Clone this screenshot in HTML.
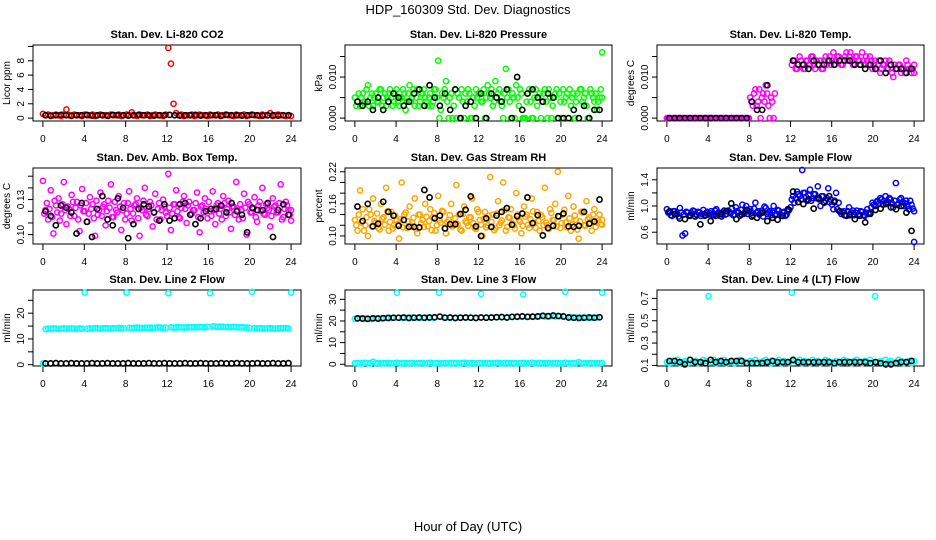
<!DOCTYPE html>
<html><head><meta charset="utf-8"><style>
html,body{margin:0;padding:0;background:#fff;}
svg{display:block;font-family:"Liberation Sans",sans-serif;}
</style></head><body>
<svg id="chart" width="936" height="540" viewBox="0 0 936 540" xmlns="http://www.w3.org/2000/svg">
<text x="468" y="14" font-size="13" text-anchor="middle">HDP_160309  Std. Dev. Diagnostics</text>
<text x="468" y="531" font-size="13" text-anchor="middle">Hour of Day (UTC)</text>
</svg>
<script>
// ---- data ----
const co2Red=[0.6,0.4,0.5,0.3,0.4,0.5,0.4,0.3,0.5,1.2,0.4,0.3,0.5,0.4,0.4,0.3,0.5,0.4,0.4,0.5,0.3,0.4,0.5,0.4,0.4,0.3,0.5,0.4,0.4,0.5,0.3,0.4,0.5,0.4,0.8,0.4,0.3,0.5,0.4,0.4,0.5,0.3,0.4,0.5,0.4,0.4,0.3,0.5,9.8,7.6,2.0,0.7,0.4,0.5,0.3,0.4,0.4,0.5,0.3,0.4,0.5,0.4,0.4,0.3,0.5,0.4,0.4,0.5,0.3,0.4,0.5,0.4,0.4,0.3,0.5,0.4,0.4,0.5,0.3,0.4,0.5,0.4,0.4,0.3,0.5,0.4,0.4,0.7,0.3,0.4,0.5,0.4,0.4,0.3,0.4,0.3];
const co2Black=[0.4,0.35,0.4,0.45,0.4,0.35,0.4,0.4,0.45,0.35,0.4,0.4,0.35,0.45,0.4,0.4,0.35,0.4,0.45,0.4,0.4,0.35,0.4,0.4,0.45,0.4,0.35,0.4,0.4,0.45,0.35,0.4,0.4,0.4,0.35,0.45,0.4,0.4,0.35,0.4,0.45,0.4,0.35,0.4,0.4,0.35,0.4,0.4];
const pressGreen=[0.005,0.004,0.003,0.006,0.004,0.008,0.005,0.003,0.006,0.004,0.007,0.005,0.003,0.006,0.005,0.004,0.007,0.003,0.005,0.006,0.004,0.008,0.005,0.003,0.007,0.004,0.006,0.005,0.003,0.006,0.004,0.007,0.014,0.002,0.005,0.009,0.000,0.006,0.003,0.000,0.005,0.007,0.000,0.004,0.006,0.000,0.003,0.005,0.006,0.004,0.000,0.008,0.005,0.003,0.009,0.006,0.004,0.000,0.012,0.007,0.000,0.005,0.008,0.003,0.006,0.000,0.004,0.007,0.000,0.005,0.003,0.006,0.004,0.007,0.000,0.005,0.003,0.006,0.000,0.004,0.007,0.005,0.000,0.003,0.006,0.004,0.000,0.007,0.005,0.003,0.000,0.006,0.004,0.002,0.005,0.016];
const pressGreen2=[0.003,0.006,0.005,0.004,0.007,0.003,0.006,0.005,0.004,0.007,0.003,0.006,0.005,0.007,0.003,0.006,0.004,0.005,0.007,0.002,0.006,0.004,0.007,0.005,0.003,0.006,0.007,0.004,0.005,0.003,0.007,0.005,0.000,0.006,0.007,0.004,0.005,0.000,0.007,0.006,0.000,0.004,0.006,0.007,0.000,0.005,0.007,0.006,0.004,0.007,0.005,0.006,0.007,0.004,0.005,0.007,0.003,0.006,0.005,0.004,0.006,0.000,0.005,0.007,0.000,0.000,0.006,0.004,0.000,0.007,0.005,0.000,0.006,0.004,0.007,0.000,0.005,0.007,0.006,0.000,0.004,0.006,0.007,0.005,0.000,0.006,0.007,0.004,0.006,0.000,0.007,0.005,0.006,0.004,0.007,0.005];
const pressBlack=[0.004,0.003,0.004,0.002,0.005,0.002,0.004,0.006,0.005,0.003,0.004,0.006,0.007,0.003,0.008,0.005,0.003,0.006,0.002,0.007,0.000,0.003,0.004,0.000,0.006,0.000,0.006,0.005,0.004,0.007,0.000,0.010,0.002,0.006,0.007,0.005,0.004,0.006,0.005,0.000,0.000,0.000,0.002,0.000,0.003,0.000,0.002,0.002];
const tempMag=[0,0,0,0,0,0,0,0,0,0,0,0,0,0,0,0,0,0,0,0,0,0,0,0,0,0,0,0,0,0,0,0,0.005,0.003,0.007,0.004,0.000,0.006,0.008,0.003,0.005,0.000,null,null,null,null,null,null,0.013,0.014,0.012,0.015,0.013,0.012,0.014,0.013,0.015,0.012,0.013,0.014,0.012,0.015,0.014,0.013,0.016,0.014,0.015,0.013,0.014,0.016,0.015,0.014,0.013,0.015,0.014,0.016,0.013,0.014,0.015,0.012,0.014,0.013,0.011,0.013,0.014,0.012,0.013,0.010,0.012,0.013,0.011,0.012,0.014,0.012,0.011,0.013];
const tempMag2=[0,0,0,0,0,0,0,0,0,0,0,0,0,0,0,0,0,0,0,0,0,0,0,0,0,0,0,0,0,0,0,0,0.004,0.006,0.003,0.007,0.005,0.004,0.006,0.000,0.004,0.006,null,null,null,null,null,null,0.014,0.012,0.013,0.014,0.012,0.014,0.013,0.015,0.013,0.014,0.013,0.012,0.014,0.013,0.015,0.014,0.013,0.015,0.014,0.013,0.015,0.014,0.016,0.013,0.015,0.014,0.013,0.014,0.015,0.013,0.014,0.013,0.012,0.014,0.012,0.013,0.012,0.014,0.011,0.013,0.012,0.013,0.012,0.011,0.013,0.012,0.012,0.011];
const tempBlack=[0,0,0,0,0,0,0,0,0,0,0,0,0,0,0,0,0.004,0.002,0.002,0.008,null,null,null,null,0.014,0.013,0.013,0.012,0.014,0.013,0.013,0.014,0.013,0.014,0.014,0.014,0.013,0.013,0.012,0.013,0.012,0.014,0.011,0.013,0.012,0.012,0.011,0.012];
const ambMag=[0.146,0.121,0.113,0.138,0.101,0.125,0.131,0.118,0.145,0.109,0.122,0.134,0.116,0.128,0.103,0.139,0.12,0.111,0.132,0.126,0.099,0.117,0.136,0.124,0.108,0.129,0.143,0.115,0.121,0.133,0.104,0.127,0.118,0.137,0.112,0.125,0.131,0.099,0.121,0.14,0.116,0.128,0.107,0.135,0.122,0.113,0.13,0.119,0.152,0.104,0.126,0.138,0.115,0.123,0.133,0.11,0.128,0.118,0.121,0.136,0.102,0.125,0.131,0.114,0.12,0.137,0.109,0.127,0.122,0.133,0.116,0.129,0.105,0.124,0.145,0.113,0.121,0.135,0.1,0.126,0.119,0.132,0.111,0.128,0.14,0.117,0.123,0.107,0.131,0.125,0.119,0.143,0.115,0.128,0.121,0.112];
const ambMag2=[0.118,0.127,0.122,0.115,0.129,0.119,0.112,0.126,0.121,0.124,0.116,0.128,0.123,0.113,0.125,0.12,0.127,0.118,0.122,0.114,0.129,0.121,0.116,0.126,0.12,0.123,0.115,0.128,0.119,0.124,0.121,0.113,0.127,0.122,0.118,0.126,0.114,0.123,0.129,0.117,0.122,0.125,0.119,0.113,0.127,0.121,0.124,0.116,0.123,0.118,0.126,0.12,0.114,0.128,0.122,0.125,0.117,0.121,0.127,0.115,0.124,0.119,0.122,0.128,0.116,0.121,0.125,0.118,0.113,0.127,0.122,0.119,0.124,0.117,0.121,0.126,0.114,0.123,0.128,0.119,0.122,0.115,0.125,0.12,0.118,0.126,0.121,0.116,0.124,0.119,0.127,0.113,0.122,0.125,0.117,0.121];
const ambBlack=[0.12,0.116,0.108,0.125,0.123,0.119,0.101,0.127,0.111,0.098,0.122,0.133,0.113,0.108,0.131,0.123,0.097,0.109,0.122,0.126,0.124,0.119,0.112,0.126,0.112,0.114,0.126,0.127,0.117,0.109,0.114,0.12,0.122,0.122,0.125,0.119,0.127,0.12,0.117,0.102,0.123,0.121,0.121,0.127,0.098,0.121,0.126,0.117];
const rhOrange=[0.13,0.11,0.185,0.15,0.12,0.1,0.14,0.17,0.125,0.115,0.16,0.135,0.19,0.11,0.145,0.12,0.13,0.095,0.2,0.14,0.115,0.155,0.125,0.17,0.105,0.14,0.13,0.16,0.118,0.15,0.135,0.11,0.175,0.125,0.145,0.105,0.13,0.16,0.12,0.195,0.14,0.11,0.155,0.125,0.135,0.17,0.115,0.15,0.13,0.1,0.145,0.12,0.21,0.14,0.115,0.165,0.125,0.2,0.11,0.135,0.15,0.12,0.18,0.13,0.105,0.155,0.14,0.115,0.17,0.125,0.145,0.11,0.135,0.19,0.12,0.15,0.13,0.16,0.22,0.115,0.14,0.125,0.175,0.11,0.155,0.13,0.095,0.145,0.12,0.165,0.135,0.11,0.15,0.125,0.14,0.13];
const rhOrange2=[0.12,0.14,0.125,0.11,0.135,0.15,0.118,0.128,0.142,0.112,0.132,0.121,0.146,0.126,0.114,0.138,0.122,0.131,0.116,0.144,0.127,0.119,0.134,0.113,0.14,0.124,0.117,0.136,0.128,0.111,0.143,0.12,0.13,0.147,0.115,0.126,0.139,0.118,0.133,0.122,0.112,0.141,0.127,0.119,0.135,0.124,0.113,0.145,0.121,0.132,0.116,0.138,0.126,0.111,0.142,0.12,0.129,0.148,0.117,0.134,0.123,0.114,0.14,0.127,0.119,0.136,0.121,0.131,0.146,0.115,0.128,0.139,0.12,0.125,0.113,0.143,0.13,0.118,0.136,0.124,0.149,0.116,0.133,0.121,0.138,0.112,0.127,0.144,0.119,0.131,0.124,0.14,0.117,0.129,0.122,0.121];
const rhBlack=[0.155,0.128,0.16,0.118,0.123,0.164,0.145,0.138,0.119,0.13,0.117,0.117,0.116,0.186,0.172,0.133,0.138,0.114,0.122,0.122,0.141,0.149,0.174,0.118,0.1,0.133,0.117,0.138,0.145,0.152,0.121,0.137,0.142,0.172,0.124,0.139,0.101,0.115,0.119,0.137,0.142,0.118,0.117,0.119,0.145,0.123,0.127,0.168];
const flowBlue=[0.95,0.9,0.85,0.92,0.88,0.97,0.55,0.58,0.9,0.86,0.93,0.88,0.91,0.85,0.94,0.89,0.87,0.92,0.86,0.95,0.9,0.84,0.93,0.88,0.91,0.96,0.87,0.92,0.85,1.02,0.9,0.88,0.95,0.86,1.05,0.92,0.89,0.84,0.97,0.9,0.86,1.0,0.88,0.93,0.85,0.91,0.87,0.94,1.1,1.05,1.22,1.15,1.55,1.2,1.08,1.25,1.12,1.18,1.3,1.0,1.15,1.08,1.27,1.1,0.95,1.2,1.05,0.88,0.92,0.85,0.98,0.9,0.86,0.93,0.87,0.91,0.85,0.95,0.9,1.05,1.0,1.08,1.12,1.02,1.15,1.06,1.1,0.98,1.35,1.04,1.12,1.0,1.08,0.95,1.02,0.45];
const flowBlue2=[0.9,0.86,0.92,0.88,0.84,0.9,0.87,0.91,0.85,0.89,0.92,0.86,0.9,0.88,0.85,0.91,0.89,0.86,0.93,0.88,0.85,0.9,0.87,0.93,0.89,0.86,0.98,0.9,0.94,0.88,1.0,0.92,0.89,0.96,0.9,0.87,0.93,0.99,0.88,0.92,0.9,0.86,0.94,0.88,0.9,0.85,0.92,0.98,1.15,1.12,1.18,1.1,1.2,1.14,1.16,1.08,1.18,1.12,1.1,1.15,1.05,1.12,1.06,1.02,1.08,0.95,0.92,0.9,0.86,0.92,0.88,0.93,0.9,0.87,0.92,0.86,0.9,0.88,0.98,1.02,1.06,1.04,1.1,1.08,1.05,1.12,1.04,1.08,1.02,1.1,1.06,1.04,1.0,1.08,0.96,0.92];
const flowBlack=[0.92,0.88,0.81,0.8,0.85,0.84,0.72,0.86,0.77,0.85,0.88,0.92,1.04,0.8,0.87,0.94,0.84,0.82,0.9,0.77,0.82,0.79,0.85,0.95,1.22,1.06,1.03,1.1,0.96,1.12,1.06,1.15,1.06,0.92,0.86,0.86,0.8,0.85,0.75,0.88,0.94,0.96,1.03,0.98,0.95,1.0,0.9,0.62];
const line2Cyan=[0.5,13.8,14.0,13.9,14.1,14.0,13.9,14.0,14.1,14.0,14.0,14.1,14.0,13.9,14.1,14.0,28.0,14.0,14.1,14.0,14.2,14.1,14.0,14.1,14.2,14.1,14.0,14.2,14.1,14.3,14.2,14.1,28.0,14.3,14.2,14.3,14.4,14.3,14.2,14.4,14.3,14.4,14.3,14.4,14.5,14.4,14.3,14.4,27.8,14.5,14.4,14.5,14.6,14.5,14.4,14.5,14.6,14.5,14.6,14.5,14.7,14.6,14.5,14.7,27.8,14.9,14.8,14.7,14.8,14.7,14.6,14.7,14.6,14.7,14.6,14.5,14.6,14.5,14.4,14.3,28.3,14.2,14.1,14.2,14.1,14.0,14.1,14.2,14.1,14.0,14.1,14.2,14.1,14.2,14.1,28.0];
const line2Black=[0.5,0.5,0.6,0.5,0.5,0.6,0.5,0.5,0.5,0.6,0.5,0.5,0.6,0.5,0.5,0.5,0.6,0.5,0.5,0.5,0.6,0.5,0.5,0.6,0.5,0.5,0.5,0.6,0.5,0.5,0.6,0.5,0.5,0.5,0.6,0.5,0.5,0.6,0.5,0.5,0.5,0.6,0.5,0.5,0.6,0.5,0.5,0.6];
const line3CyanLow=[0.5,0.6,0.4,0.5,0.7,0.5,0.4,1.2,0.5,0.6,0.4,0.5,0.5,0.6,0.4,0.5,0.7,0.5,0.4,0.6,0.5,0.5,0.6,0.4,0.5,0.5,0.6,0.4,0.5,0.7,0.5,0.4,0.6,0.5,0.5,0.6,0.4,0.5,0.5,0.6,0.4,0.5,0.7,0.5,0.4,0.6,0.5,0.5,0.6,0.4,0.5,0.5,0.6,0.4,0.5,0.7,0.5,0.4,0.6,0.5,0.5,0.6,0.4,0.5,0.5,0.6,0.4,0.5,0.7,0.5,0.4,0.6,0.5,0.5,0.6,0.4,0.5,0.5,0.6,0.4,0.5,0.7,0.5,0.4,0.6,0.5,1.0,0.6,0.4,0.5,0.5,0.6,0.4,0.5,0.5,0.6];
const line3CyanHigh=[21.0,21.2,21.1,21.0,21.3,21.2,21.4,21.3,33.0,21.5,21.4,21.6,21.5,21.4,21.6,21.5,33.0,21.6,21.5,21.4,21.6,21.5,21.6,21.5,32.5,21.7,21.6,21.8,21.7,21.8,21.9,21.8,32.2,22.0,21.9,22.1,22.0,22.1,22.0,22.2,33.5,21.8,21.6,21.5,21.6,21.5,21.6,33.0];
const line3Black=[21.2,21.1,21.0,21.2,21.1,21.3,21.4,21.5,21.5,21.6,21.4,21.5,21.6,21.5,21.6,21.7,22.0,21.5,21.6,21.4,21.5,21.6,21.5,21.4,21.6,21.5,21.6,21.7,21.8,21.6,21.9,22.0,22.1,21.9,22.0,22.1,22.4,22.2,22.5,22.3,22.1,21.6,21.5,21.4,21.5,21.6,21.5,21.7];
const line4Cyan=[0.13,0.12,0.14,0.13,0.15,0.12,0.13,0.14,0.12,0.15,0.13,0.14,0.12,0.13,0.15,0.14,0.72,0.13,0.15,0.12,0.14,0.13,0.15,0.12,0.13,0.14,0.12,0.13,0.15,0.14,0.13,0.12,0.14,0.13,0.15,0.12,0.13,0.14,0.15,0.13,0.12,0.14,0.13,0.15,0.12,0.14,0.13,0.12,0.75,0.14,0.13,0.15,0.12,0.14,0.13,0.12,0.15,0.13,0.14,0.12,0.13,0.15,0.14,0.12,0.13,0.14,0.12,0.13,0.15,0.14,0.13,0.12,0.14,0.15,0.13,0.12,0.14,0.13,0.15,0.12,0.72,0.13,0.14,0.12,0.15,0.13,0.14,0.12,0.13,0.15,0.14,0.12,0.13,0.14,0.12,0.14];
const line4Black=[0.14,0.14,0.13,0.11,0.15,0.13,0.13,0.12,0.15,0.13,0.14,0.13,0.14,0.14,0.14,0.12,0.12,0.12,0.12,0.13,0.14,0.13,0.13,0.13,0.15,0.13,0.13,0.13,0.13,0.13,0.13,0.13,0.12,0.13,0.13,0.13,0.13,0.13,0.13,0.12,0.13,0.12,0.11,0.11,0.12,0.13,0.13,0.14];
const xTicks=[0,4,8,12,16,20,24];
const yTicks1=[0,2,4,6,8,10], yLabels1=["0","2","4","6","8",""];
const yTicks2=[0,0.005,0.010,0.015], yLabels2=["0.000","","0.010",""];
const yTicks3=[0,0.005,0.010,0.015], yLabels3=["0.000","","0.010",""];
const yTicks4=[0.10,0.11,0.12,0.13,0.14,0.15], yLabels4=["0.10","","","0.13","",""];
const yTicks5=[0.10,0.12,0.14,0.16,0.18,0.20,0.22], yLabels5=["0.10","","","0.16","","","0.22"];
const yTicks6=[0.6,0.8,1.0,1.2,1.4], yLabels6=["0.6","","1.0","","1.4"];
const yTicks7=[0,5,10,15,20,25], yLabels7=["0","","10","","20",""];
const yTicks8=[0,5,10,15,20,25,30], yLabels8=["0","","10","","20","","30"];
const yTicks9=[0.1,0.2,0.3,0.4,0.5,0.6,0.7], yLabels9=["0.1","","0.3","","0.5","","0.7"];

// ---- layout ----
const svg=document.getElementById('chart');
const NS='http://www.w3.org/2000/svg';
const cols=[{l:33,r:301},{l:345,r:612},{l:657,r:924}];
const rows=[{t:45,b:121},{t:168,b:244},{t:290,b:366}];
function mk(tag,attrs,parent){const e=document.createElementNS(NS,tag);for(const k in attrs)e.setAttribute(k,attrs[k]);(parent||svg).appendChild(e);return e;}

const panels=[
 {name:'co2',title:'Stan. Dev. Li-820 CO2',ylab:'Licor ppm',ymin:-0.4,ymax:10.2,ticks:yTicks1,labels:yLabels1,series:[[co2Red,'#ff0000'],[co2Black,'#000']]},
 {name:'pressure',title:'Stan. Dev. Li-820 Pressure',ylab:'kPa',ymin:-0.0007,ymax:0.0178,ticks:yTicks2,labels:yLabels2,series:[[pressGreen,'#00ff00'],[pressGreen2,'#00ff00'],[pressBlack,'#000']]},
 {name:'li820-temp',title:'Stan. Dev. Li-820 Temp.',ylab:'degrees C',ymin:-0.0007,ymax:0.0178,ticks:yTicks3,labels:yLabels3,series:[[tempMag,'#ff00ff'],[tempMag2,'#ff00ff'],[tempBlack,'#000']]},
 {name:'amb-box-temp',title:'Stan. Dev. Amb. Box Temp.',ylab:'degrees C',ymin:0.092,ymax:0.157,ticks:yTicks4,labels:yLabels4,series:[[ambMag,'#ff00ff'],[ambMag2,'#ff00ff'],[ambBlack,'#000']]},
 {name:'gas-stream-rh',title:'Stan. Dev. Gas Stream RH',ylab:'percent',ymin:0.085,ymax:0.227,ticks:yTicks5,labels:yLabels5,series:[[rhOrange,'#ffa500'],[rhOrange2,'#ffa500'],[rhBlack,'#000']]},
 {name:'sample-flow',title:'Stan. Dev. Sample Flow',ylab:'ml/min',ymin:0.42,ymax:1.58,ticks:yTicks6,labels:yLabels6,series:[[flowBlue,'#0000ff'],[flowBlue2,'#0000ff'],[flowBlack,'#000']]},
 {name:'line2-flow',title:'Stan. Dev. Line 2 Flow',ylab:'ml/min',ymin:-0.5,ymax:29,ticks:yTicks7,labels:yLabels7,series:[[line2Cyan,'#00ffff'],[line2Black,'#000']]},
 {name:'line3-flow',title:'Stan. Dev. Line 3 Flow',ylab:'ml/min',ymin:-0.8,ymax:34.3,ticks:yTicks8,labels:yLabels8,series:[[line3CyanLow,'#00ffff'],[line3CyanHigh,'#00ffff'],[line3Black,'#000']]},
 {name:'line4-flow',title:'Stan. Dev. Line 4 (LT) Flow',ylab:'ml/min',ymin:0.095,ymax:0.775,ticks:yTicks9,labels:yLabels9,series:[[line4Cyan,'#00ffff'],[line4Black,'#000']]}
];

panels.forEach((p,pi)=>{
  const c=cols[pi%3], r=rows[Math.floor(pi/3)];
  const g=mk('g',{});
  
  
  const xs=h=>c.l+(h+0.96)/25.92*(c.r-c.l);
  const ys=v=>r.b-(v-p.ymin)/(p.ymax-p.ymin)*(r.b-r.t);
  const box=mk('rect',{x:c.l,y:r.t,width:c.r-c.l,height:r.b-r.t,fill:'none',stroke:'#000','stroke-width':1},g);
  
  
  const tt=mk('text',{x:(c.l+c.r)/2,y:r.t-7,'font-size':11,'font-weight':'bold','text-anchor':'middle'},g);
  tt.textContent=p.title;
  
  
  const yl=mk('text',{x:0,y:0,'font-size':10,'text-anchor':'middle',transform:`translate(${c.l-23},${(r.t+r.b)/2}) rotate(-90)`},g);
  yl.textContent=p.ylab;
  
  
  xTicks.forEach(h=>{
    mk('line',{x1:xs(h),x2:xs(h),y1:r.b,y2:r.b+6,stroke:'#000'},g);
    const t=mk('text',{x:xs(h),y:r.b+21,'font-size':10,'text-anchor':'middle'},g);
    t.textContent=h;
    
    
  });
  p.ticks.forEach((v,i)=>{
    const y=ys(v);
    mk('line',{x1:c.l-5,x2:c.l,y1:y,y2:y,stroke:'#000'},g);
    if(p.labels[i]){
      const t=mk('text',{x:0,y:0,'font-size':10,'text-anchor':'middle',transform:`translate(${c.l-9},${y}) rotate(-90)`},g);
      t.textContent=p.labels[i];
      
      
    }
  });
  p.series.forEach(([arr,col],si)=>{
    const n=arr.length;
    const black=col==='#000';
    const off=(!black && si===1 && n===96)?0.125:0;
    arr.forEach((v,i)=>{
      if(v===null)return;
      const h=black? (i+0.5)*24/n : Math.min(24,i*24/(n-1)+off);
      const pt=mk('circle',{cx:xs(h),cy:ys(v),r:2.6,fill:'none',stroke:col,'stroke-width':black?1.6:1.5},g);
      
      
    });
  });
});
</script>
</body></html>
